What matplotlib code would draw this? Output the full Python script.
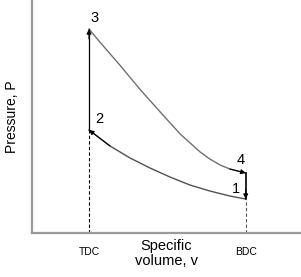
import matplotlib.pyplot as plt

plt.rcParams['font.family'] = ['Liberation Sans', 'DejaVu Sans']

# specific volume (TDC = 1) and pressure (arbitrary units)
V_TDC = 1.0
V_BDC = 3.75

# expansion 3 -> 4
v_exp = [1.0, 1.19, 1.54, 1.89, 2.25, 2.60, 2.95, 3.12, 3.30, 3.47, 3.75]
p_exp = [20.4, 19.1, 16.8, 14.4, 12.1, 9.9, 8.1, 7.4, 6.8, 6.4, 6.0]

# compression 1 -> 2
v_comp = [3.75, 3.47, 3.12, 2.77, 2.42, 2.07, 1.72, 1.37, 1.0]
p_comp = [3.4, 3.7, 4.2, 4.8, 5.6, 6.5, 7.5, 8.7, 10.3]

state_labels = ['1', '2', '3', '4']
label_v = [3.58, 1.18, 1.10, 3.67]
label_p = [4.4, 11.4, 21.5, 7.3]


def arrow_head(ax, start, end, color='black'):
    ax.annotate('', xy=end, xytext=start,
                arrowprops=dict(arrowstyle='-|>', mutation_scale=7, color=color,
                                lw=0.8, shrinkA=0, shrinkB=0))


fig = plt.figure(figsize=(3.01, 2.77), dpi=100)
ax = fig.add_axes([32 / 301, 44 / 277, 269 / 301, 233 / 277])
ax.set_xlim(0, 4.72)
ax.set_ylim(0, 23.3)

for side in ['top', 'right']:
    ax.spines[side].set_visible(False)
for side in ['left', 'bottom']:
    ax.spines[side].set_color('#9a9a9a')
    ax.spines[side].set_linewidth(1.6)

# cycle
ax.plot(v_exp, p_exp, color='#707070', lw=1.0)
ax.plot(v_comp, p_comp, color='#505050', lw=1.0)
ax.plot([V_TDC, V_TDC], [p_comp[-1], p_exp[0]], color='black', lw=0.9)
ax.plot([V_BDC, V_BDC], [p_exp[-1], p_comp[0]], color='black', lw=1.2)

arrow_head(ax, (V_TDC, p_exp[0] - 1.0), (V_TDC, p_exp[0]))
arrow_head(ax, (v_comp[-2], p_comp[-2]), (v_comp[-1], p_comp[-1]))
arrow_head(ax, (v_exp[-2], p_exp[-2]), (v_exp[-1], p_exp[-1]))
arrow_head(ax, (V_BDC, p_comp[0] + 1.0), (V_BDC, p_comp[0]))

# TDC / BDC guides
ax.plot([V_TDC, V_TDC], [0, p_comp[-1]], color='black', lw=0.8, ls=(0, (3, 2)))
ax.plot([V_BDC, V_BDC], [0, p_comp[0]], color='#555555', lw=0.8, ls=(0, (3, 2)))

for lab, v, p in zip(state_labels, label_v, label_p):
    ax.text(v, p, lab, fontsize=10.5, ha='center', va='center')

ax.set_xticks([V_TDC, V_BDC], ['TDC', 'BDC'])
ax.set_yticks([])
ax.tick_params(axis='x', length=0, pad=10, labelsize=7.5)

ax.text(0.5, -0.025, 'Specific\nvolume, v', transform=ax.transAxes,
        ha='center', va='top', fontsize=10.5, linespacing=1.1)
ax.set_ylabel('Pressure, P', fontsize=10, labelpad=9)

fig.savefig('out.png', dpi=100)
